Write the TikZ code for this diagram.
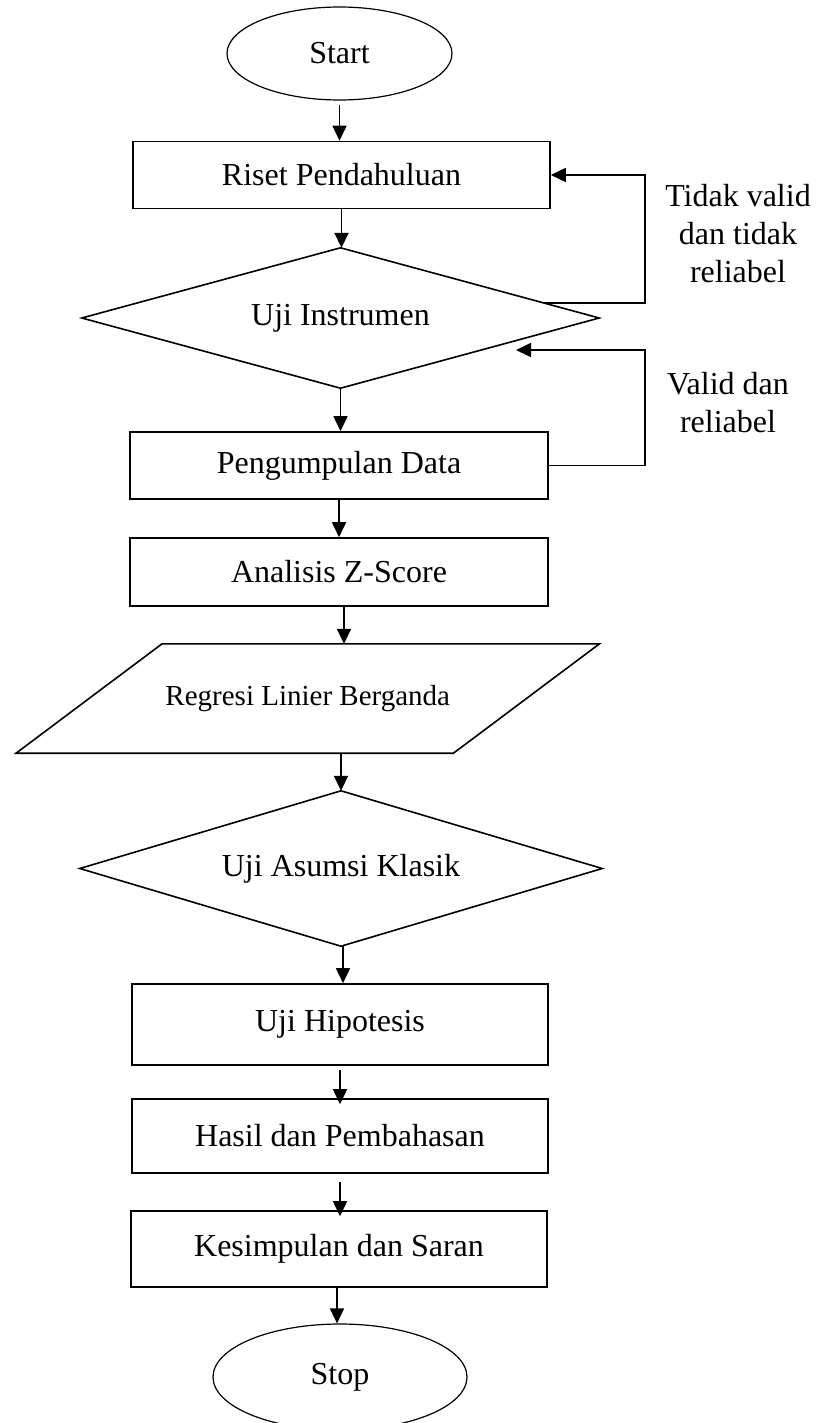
\documentclass[tikz,border=0pt]{standalone}
\usepackage{fontspec}
\setmainfont{Liberation Serif}
\usetikzlibrary{shapes.geometric,arrows.meta,calc}
\begin{document}
\begin{tikzpicture}[x=1pt,y=-1pt,
  every node/.style={font=\fontsize{32}{38}\selectfont},
  line/.style={line width=1.6pt},
  arr/.style={line width=1.7pt,-{Triangle[length=15pt,width=14pt]}},
  box/.style={draw,line width=1.6pt,rectangle,inner sep=0pt},
  term/.style={draw,line width=1.2pt,ellipse,inner sep=0pt},
  area/.style={rectangle,inner sep=0pt},
]
\useasboundingbox (0,0) rectangle (819,1423);
\node[term,minimum width=225pt,minimum height=93pt] (start) at (339.5,53.5) {Start};
\node[box,minimum width=417pt,minimum height=67pt] (riset) at (341.5,175) {Riset Pendahuluan};
\node[area,minimum width=517pt,minimum height=140pt] (uji) at (340.5,318) {Uji Instrumen};
\draw[line] (uji.north) -- (uji.east) -- (uji.south) -- (uji.west) -- cycle;
\node[box,minimum width=418pt,minimum height=67pt] (kumpul) at (339,465.5) {Pengumpulan Data};
\node[box,minimum width=418pt,minimum height=68pt] (zscore) at (339,572) {Analisis Z-Score};
\node[area,minimum width=437pt,minimum height=109pt,font=\fontsize{29}{34}\selectfont] (regresi) at (307.75,698.5) {Regresi Linier Berganda};
\draw[line] ([xshift=73pt]regresi.north west) -- ([xshift=73pt]regresi.north east) -- ([xshift=-73pt]regresi.south east) -- ([xshift=-73pt]regresi.south west) -- cycle;
\node[area,minimum width=522pt,minimum height=155pt] (asumsi) at (341,868.5) {Uji Asumsi Klasik};
\draw[line] (asumsi.north) -- (asumsi.east) -- (asumsi.south) -- (asumsi.west) -- cycle;
\node[box,minimum width=416pt,minimum height=81pt] (hipotesis) at (340,1024.5) {Uji Hipotesis};
\node[box,minimum width=416pt,minimum height=74pt] (hasil) at (340,1136) {Hasil dan Pembahasan};
\node[box,minimum width=416pt,minimum height=76pt] (simpul) at (339,1249) {Kesimpulan dan Saran};
\node[term,minimum width=254pt,minimum height=106pt] (stop) at (340,1377) {Stop};

\node[align=center] (lbl1) at (738,234) {Tidak valid\\dan tidak\\reliabel};
\node[align=center] (lbl2) at (728,403) {Valid dan\\reliabel};

\draw[arr] ([yshift=-4pt]start.south) -- (start.south |- riset.north);
\draw[arr] (riset.south) -- (riset.south |- uji.north);
\draw[arr] (uji.south) -- (uji.south |- kumpul.north);
\draw[arr] (kumpul.south) -- (kumpul.south |- zscore.north);
\draw[arr] ([xshift=5pt]zscore.south) -- ([xshift=5pt]zscore.south |- regresi.north);
\draw[arr] (regresi.south -| asumsi.north) -- (asumsi.north);
\draw[arr] ([xshift=2pt]asumsi.south) -- ([xshift=2pt]asumsi.south |- hipotesis.north);
\draw[arr] ([yshift=-4pt]hipotesis.south) -- ([yshift=-6pt]hipotesis.south |- hasil.north);
\draw[arr] ([yshift=-8pt]hasil.south) -- ([yshift=-6pt]hasil.south |- simpul.north);
\draw[arr] ([xshift=-2pt]simpul.south) -- ([xshift=-2pt]simpul.south |- stop.north);

\coordinate (rx) at (645,0);
\coordinate (fb1) at ($(uji.north)!0.786!(uji.east)$);
\coordinate (tip2) at (516,350);
\draw[arr] (fb1) -- (fb1 -| rx) -- (rx |- riset.east) -- (riset.east);
\draw[arr] (kumpul.east) -- (kumpul.east -| rx) -- (rx |- tip2) -- (tip2);
\end{tikzpicture}
\end{document}
